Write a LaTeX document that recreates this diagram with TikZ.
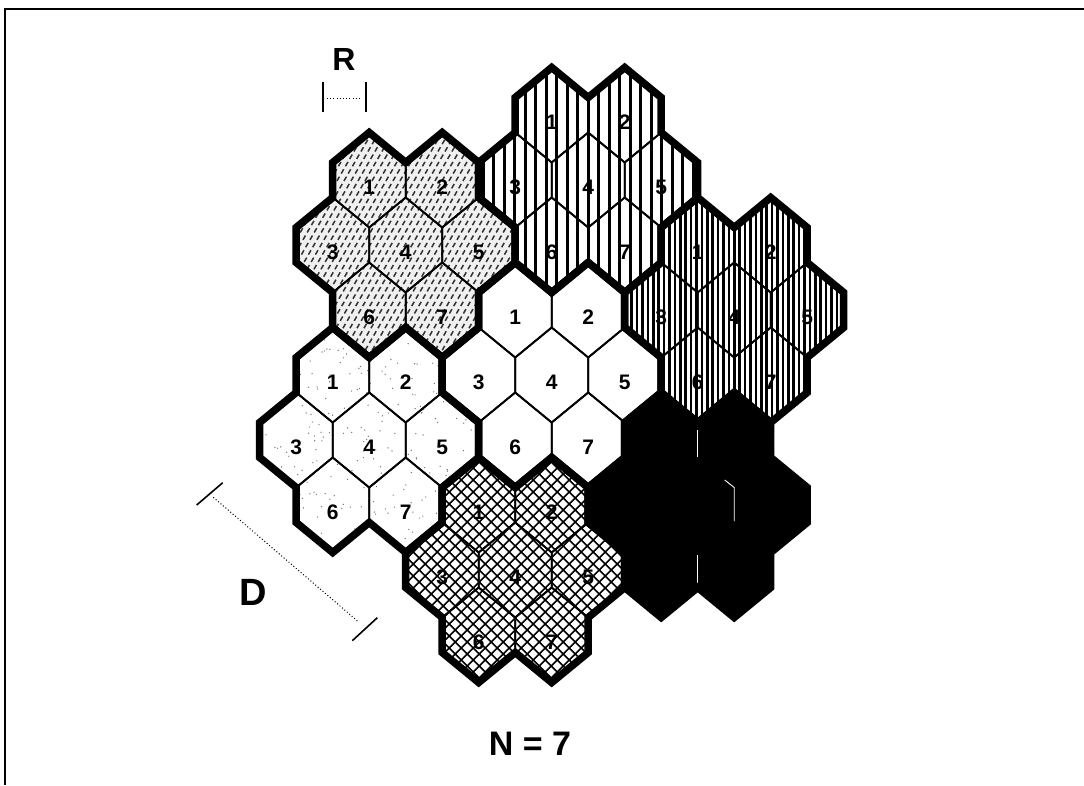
\documentclass[tikz,border=0pt]{standalone}
\usepackage{fontspec}
\setmainfont{Liberation Sans}
\begin{document}
\begin{tikzpicture}[x=1pt,y=-1pt,
  cellpath/.style={insert path={(0,-47.5) -- (36.5,-17.5) -- (36.5,17.5) -- (0,47.5) -- (-36.5,17.5) -- (-36.5,-17.5) -- cycle}},
  clusterpath/.style={insert path={(-73,-82.5) -- (-36.5,-112.5) -- (0,-82.5) -- (36.5,-112.5) -- (73,-82.5) -- (73,-47.5) -- (109.5,-17.5) -- (109.5,17.5) -- (73,47.5) -- (73,82.5) -- (36.5,112.5) -- (0,82.5) -- (-36.5,112.5) -- (-73,82.5) -- (-73,47.5) -- (-109.5,17.5) -- (-109.5,-17.5) -- (-73,-47.5) -- cycle}},
  innerline/.style={line width=1.8pt, line join=miter},
  outerline/.style={line width=7.5pt, line join=miter, miter limit=6},
  digit/.style={font=\fontsize{21}{21}\selectfont\bfseries, inner sep=0pt},
  biglabel/.style={font=\fontsize{38}{38}\selectfont\bfseries, inner sep=0pt},
  dashhatch/.style={line width=1.5pt, dash pattern=on 5pt off 3.5pt, black!80},
  widestripe/.style={line width=2.6pt},
  finestripe/.style={line width=2.6pt},
  crosshatch/.style={line width=1.5pt},
  tickline/.style={line width=1.6pt},
  dotline/.style={line width=1pt, dash pattern=on 1pt off 2.2pt},
  framestroke/.style={line width=2.5pt}
]
\useasboundingbox (0,0) rectangle (1084,785);
\fill[white] (0,0) rectangle (1084,785);
\def\cells{-36.5/-65/1, 36.5/-65/2, -73/0/3, 0/0/4, 73/0/5, -36.5/65/6, 36.5/65/7}

% frame
\coordinate (fTL) at (5,9);
\coordinate (fTR) at (1084,9);
\coordinate (fBL) at (5,785);
\draw[framestroke] (fTR) -- (fTL) -- (fBL);

% cluster centres
\coordinate (cA) at (405.7,245);
\coordinate (cB) at (588.2,180);
\coordinate (cC) at (734.2,310);
\coordinate (cO) at (551.7,375);
\coordinate (cL) at (369.2,440);
\coordinate (cX) at (515.2,570);
\coordinate (cK) at (697.7,505);

% A: dashed diagonal hatching
\begin{scope}[shift={(cA)}]
  \begin{scope}
    \clip[clusterpath];
    \fill[black!6] (-120,-120) rectangle (120,120);
    \foreach \i in {-36,...,16} \draw[dashhatch] (\i*7,120) -- ++(-60:280);
  \end{scope}
  \foreach \x/\y/\n in \cells {
    \draw[innerline, shift={(\x,\y)}, cellpath];
    \node[digit] (A\n) at ({\x},{\y+7}) {\n};
  }
\end{scope}

% B: wide vertical stripes
\begin{scope}[shift={(cB)}]
  \begin{scope}
    \clip[clusterpath];
    \fill[white] (-120,-120) rectangle (120,120);
    \foreach \i in {-11,...,11} \draw[widestripe] (\i*10.5,-120) -- (\i*10.5,120);
  \end{scope}
  \foreach \x/\y/\n in \cells {
    \draw[innerline, shift={(\x,\y)}, cellpath];
    \node[digit] (B\n) at ({\x},{\y+7}) {\n};
  }
\end{scope}

% C: fine vertical stripes
\begin{scope}[shift={(cC)}]
  \begin{scope}
    \clip[clusterpath];
    \fill[white] (-120,-120) rectangle (120,120);
    \foreach \i in {-21,...,21} \draw[finestripe] (\i*5.4,-120) -- (\i*5.4,120);
  \end{scope}
  \foreach \x/\y/\n in \cells {
    \draw[innerline, shift={(\x,\y)}, cellpath];
    \node[digit] (C\n) at ({\x},{\y+7}) {\n};
  }
\end{scope}

% O: plain white centre cluster
\begin{scope}[shift={(cO)}]
  \fill[white][clusterpath];
  \foreach \x/\y/\n in \cells {
    \draw[innerline, shift={(\x,\y)}, cellpath];
    \node[digit] (O\n) at ({\x},{\y+7}) {\n};
  }
\end{scope}

% L: light stipple
\begin{scope}[shift={(cL)}]
  \begin{scope}
    \clip[clusterpath];
    \fill[white] (-120,-120) rectangle (120,120);
    \pgfmathsetseed{7}
    \foreach \k in {1,...,300} \fill[black!55] ({110*rand},{113*rand}) circle (0.7);
  \end{scope}
  \foreach \x/\y/\n in \cells {
    \draw[innerline, shift={(\x,\y)}, cellpath];
    \node[digit] (L\n) at ({\x},{\y+7}) {\n};
  }
\end{scope}

% X: cross hatching
\begin{scope}[shift={(cX)}]
  \begin{scope}
    \clip[clusterpath];
    \fill[white] (-120,-120) rectangle (120,120);
    \foreach \i in {-20,...,20} {
      \draw[crosshatch] (\i*12-120,-120) -- ++(240,240);
      \draw[crosshatch] (\i*12-120,120) -- ++(240,-240);
    }
  \end{scope}
  \foreach \x/\y/\n in \cells {
    \draw[innerline, shift={(\x,\y)}, cellpath];
    \node[digit] (X\n) at ({\x},{\y+7}) {\n};
  }
\end{scope}

% K: solid black cluster
\begin{scope}[shift={(cK)}]
  \fill[black][clusterpath];
  \draw[white, line width=0.9pt] (0,-75) -- (0,-48);
  \draw[white, line width=0.9pt] (27,-25) -- (36.5,-17.5) -- (36.5,16);
  \draw[white, line width=0.9pt] (0,50) -- (0,78);
\end{scope}

% thick cluster outlines
\foreach \c in {cA,cB,cC,cO,cL,cX,cK}
  \draw[outerline, shift={(\c)}, clusterpath];

% R marker
\node[biglabel, font=\fontsize{32}{32}\selectfont\bfseries, anchor=base] (Rlab) at (344,70) {R};
\coordinate (r1) at (322.7,82);
\coordinate (r2) at (322.7,112);
\coordinate (r3) at (366,82);
\coordinate (r4) at (366,112);
\coordinate (r5) at (327,98);
\coordinate (r6) at (362,98);
\draw[tickline] (r1) -- (r2);
\draw[tickline] (r3) -- (r4);
\draw[dotline] (r5) -- (r6);

% D marker
\node[biglabel, anchor=base] (Dlab) at (253.5,605.7) {D};
\coordinate (d1) at (196.7,505);
\coordinate (d2) at (222.7,482.7);
\coordinate (d3) at (352.3,640.7);
\coordinate (d4) at (377.3,617.7);
\coordinate (d5) at (213.3,497.3);
\coordinate (d6) at (358.3,621.7);
\draw[tickline] (d1) -- (d2);
\draw[tickline] (d3) -- (d4);
\draw[dotline] (d5) -- (d6);

% caption
\node[biglabel, font=\fontsize{34}{34}\selectfont\bfseries, anchor=base] (Nlab) at (530,755) {N = 7};
\end{tikzpicture}
\end{document}
